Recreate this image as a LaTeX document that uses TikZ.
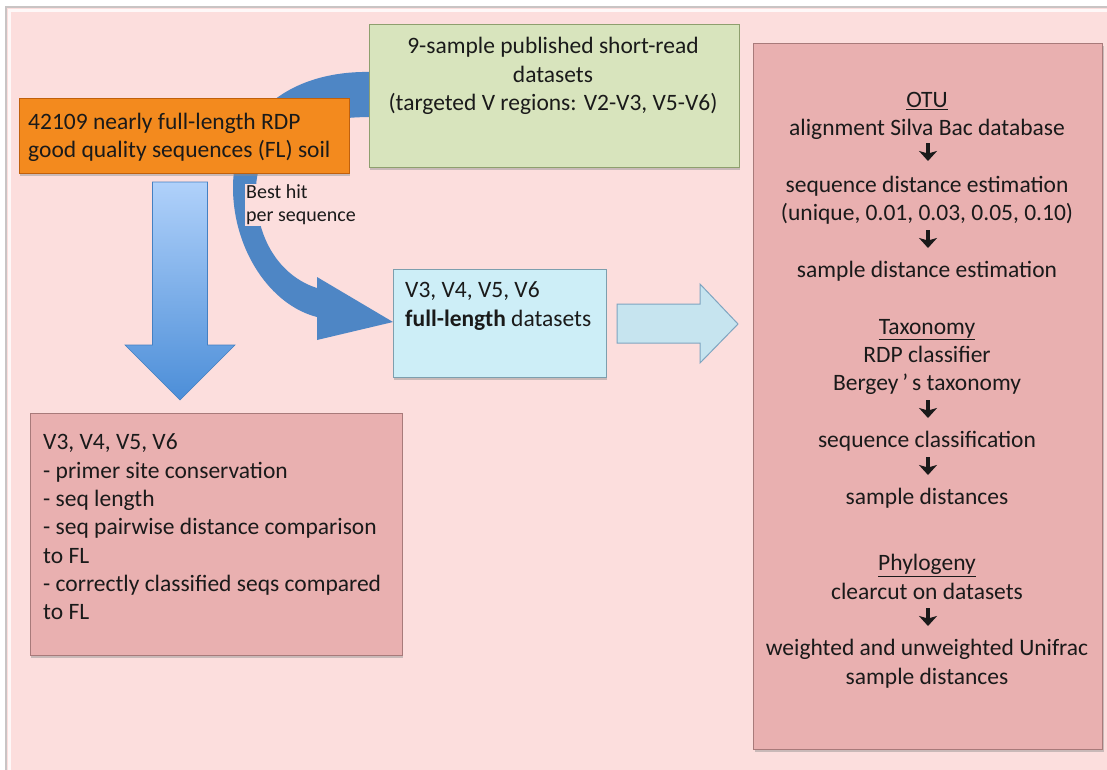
\documentclass[tikz,border=0pt]{standalone}
\usepackage{fontspec}
\setmainfont{Carlito}
\usetikzlibrary{shadows,arrows.meta}
\definecolor{bgpink}{HTML}{FCDEDD}
\definecolor{framegray}{HTML}{C9C4C4}
\definecolor{pinkbox}{HTML}{E9B0B0}
\definecolor{pinkborder}{HTML}{A87A7A}
\definecolor{orangebox}{HTML}{F38A1E}
\definecolor{orangeborder}{HTML}{C0600C}
\definecolor{greenbox}{HTML}{D8E4BD}
\definecolor{greenborder}{HTML}{8E9F6E}
\definecolor{lbluebox}{HTML}{CDEEF7}
\definecolor{lblueborder}{HTML}{7D9FAE}
\definecolor{curvblue}{HTML}{4E86C5}
\definecolor{dtopblue}{HTML}{B0D1FA}
\definecolor{dbotblue}{HTML}{4C8ED8}
\definecolor{rarrfill}{HTML}{C6E4EF}
\definecolor{rarrborder}{HTML}{7FA5C0}
\definecolor{txt}{HTML}{1A1A1A}
\tikzset{
  boxbase/.style={draw, line width=1pt, inner sep=0pt,
    drop shadow={shadow xshift=1pt, shadow yshift=-3pt, fill=black!45, opacity=0.45}},
  pinkstyle/.style={boxbase, fill=pinkbox, draw=pinkborder},
  orangestyle/.style={boxbase, fill=orangebox, draw=orangeborder},
  greenstyle/.style={boxbase, fill=greenbox, draw=greenborder},
  lbluestyle/.style={boxbase, fill=lbluebox, draw=lblueborder},
  maintext/.style={font=\fontsize{23.5}{28.3}\selectfont, text=txt, inner sep=0pt},
  smalltext/.style={font=\fontsize{20}{23}\selectfont, text=txt, inner sep=1pt, fill=bgpink},
  smallarrow/.style={draw=txt, line width=4.5pt, -{Stealth[width=18pt, length=10pt, inset=2.5pt]}},
}
\begin{document}
\begin{tikzpicture}[x=1pt,y=-1pt]
\useasboundingbox (0,0) rectangle (1107,769);
\fill[white] (0,0) rectangle (1107,769);
\draw[fill=bgpink, draw=framegray, line width=2pt] (6,7) rectangle (1115,780);
\draw[white, line width=3pt, opacity=0.8] (9.5,780) -- (9.5,10.5) -- (1115,10.5);

% curved arrow (green -> light blue)
\fill[curvblue] (372,72) .. controls (290,70) and (232,115) .. (233,190)
  .. controls (234,250) and (270,305) .. (317,317) -- (317,340) -- (393,322)
  -- (317,277) -- (317,288) .. controls (285,278) and (256,245) .. (256,190)
  .. controls (256,140) and (300,117) .. (372,117) -- cycle;

% down arrow (orange -> bottom box)
\coordinate (dtop) at (180,182);
\coordinate (dtip) at (180,400);
\shade[top color=dtopblue, bottom color=dbotblue, draw=dbotblue!90!black, line width=0.6pt]
  (dtop) ++(-27.5,0) -- ++(0,163) -- ++(-27.5,0) -- (dtip) -- ++(55,-55) -- ++(-27.5,0)
  -- ++(0,-163) -- cycle;

\node[smalltext, anchor=west, align=left] (besthit) at (245,205) {Best hit\\per sequence};

% boxes
\node[orangestyle, minimum width=330pt, minimum height=75pt] (orange) at (184,135.5) {};
\node[greenstyle, minimum width=370pt, minimum height=143pt] (green) at (554,95.5) {};
\node[lbluestyle, minimum width=213pt, minimum height=108pt] (lblue) at (499.5,323) {};
\node[pinkstyle, minimum width=372pt, minimum height=242pt] (bleft) at (216,534) {};
\node[pinkstyle, minimum width=349pt, minimum height=706pt] (rbox) at (928,396) {};

% right arrow (light blue -> right box)
\coordinate (rtail) at (617,324);
\coordinate (rtip) at (738,324);
\filldraw[fill=rarrfill, draw=rarrborder, line width=1pt]
  (rtail) ++(0,-20) -- ++(83,0) -- ++(0,-20) -- (rtip) -- ++(-38,39) -- ++(0,-20)
  -- ++(-83,0) -- cycle;

% texts
\node[maintext, anchor=west, align=left] (orangetext) at (28,137.5)
  {42109 nearly full-length RDP\\good quality sequences (FL) soil};
\node[maintext, align=center] (greentext) at (553,76)
  {9-sample published short-read\\datasets\\(targeted V regions: V2-V3, V5-V6)};
\node[maintext, anchor=west, align=left] (lbluetext) at (405,306)
  {V3, V4, V5, V6\\\textbf{full-length} datasets};
\node[maintext, anchor=west, align=left] (blefttext) at (43,527)
  {V3, V4, V5, V6\\- primer site conservation\\- seq length\\- seq pairwise distance comparison\\to FL\\- correctly classified seqs compared\\to FL};
\node[maintext, align=center] (rtext) at (927,390)
  {\underline{OTU}\\alignment Silva Bac database\\\mbox{}\\sequence distance estimation\\(unique, 0.01, 0.03, 0.05, 0.10)\\\mbox{}\\sample distance estimation\\[28.7pt]
   \underline{Taxonomy}\\RDP classifier\\Bergey\,’\,s taxonomy\\\mbox{}\\sequence classification\\\mbox{}\\sample distances\\[38.5pt]
   \underline{Phylogeny}\\clearcut on datasets\\\mbox{}\\weighted and unweighted Unifrac\\sample distances};
% small step arrows inside the right box
\foreach \yy/\nm in {152/a1,239/a2,409/a3,466/a4,617/a5} {
  \coordinate (\nm s) at (928,\yy-9);
  \coordinate (\nm e) at (928,\yy+9);
  \draw[smallarrow] (\nm s) -- (\nm e);
}
\end{tikzpicture}
\end{document}
